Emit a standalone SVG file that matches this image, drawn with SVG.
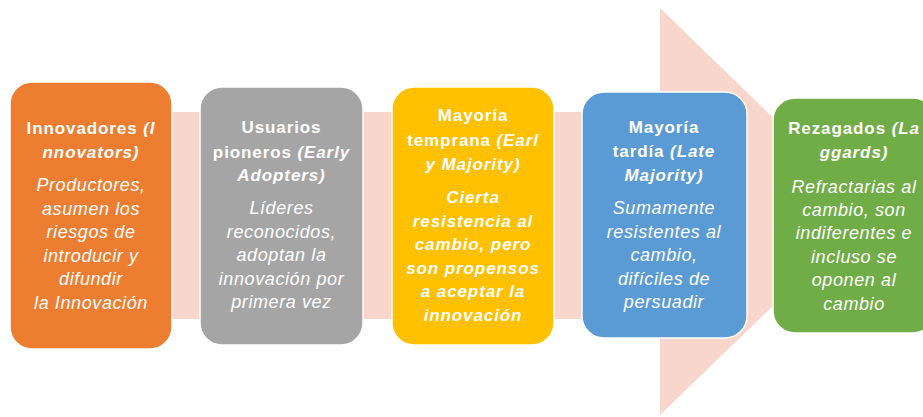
<svg xmlns="http://www.w3.org/2000/svg" width="923" height="417" viewBox="0 0 923 417">
<style>
.box{stroke:#fff;stroke-width:1.5}
text{font-family:"Liberation Sans",Arial,sans-serif;font-size:17px;fill:#fff;text-anchor:middle;letter-spacing:0.9px}
.h{font-weight:bold}
.i{font-style:italic}
.bi{font-weight:bold;font-style:italic}
.b{font-size:18px;letter-spacing:0.6px}
</style>
<rect width="923" height="417" fill="#fff"/>
<g id="arrow">
<path d="M10 112 H660 V8 L870 212 L660 415 V319 H10 Z" fill="#F8D6CB"/>
</g>
<g id="innovadores">
<rect class="box" x="10" y="82" width="162" height="267" rx="22" fill="#ED7D31"/>
<text x="91" y="134" class="h">Innovadores <tspan class="i">(I</tspan></text>
<text x="91" y="158" class="bi">nnovators)</text>
<text class="i b"><tspan x="91" y="191">Productores,</tspan><tspan x="91" y="214.5">asumen los</tspan><tspan x="91" y="238">riesgos de</tspan><tspan x="91" y="261.5">introducir y</tspan><tspan x="91" y="285">difundir</tspan><tspan x="91" y="308.5">la Innovación</tspan></text>
</g>
<g id="pioneros">
<rect class="box" x="200" y="87" width="163" height="258" rx="22" fill="#A5A5A5"/>
<text x="281.5" y="133" class="h">Usuarios</text>
<text x="281.5" y="157.5" class="h">pioneros <tspan class="i">(Early</tspan></text>
<text x="281.5" y="181" class="bi">Adopters)</text>
<text class="i b"><tspan x="281.5" y="214">Líderes</tspan><tspan x="281.5" y="237.5">reconocidos,</tspan><tspan x="281.5" y="261">adoptan la</tspan><tspan x="281.5" y="284.5">innovación por</tspan><tspan x="281.5" y="308">primera vez</tspan></text>
</g>
<g id="temprana">
<rect class="box" x="392" y="87" width="162" height="258" rx="22" fill="#FFC000"/>
<text x="473" y="121" class="h">Mayoría</text>
<text x="473" y="146" class="h">temprana <tspan class="i">(Earl</tspan></text>
<text x="473" y="169.5" class="bi">y Majority)</text>
<text class="bi"><tspan x="473" y="203">Cierta</tspan><tspan x="473" y="226.5">resistencia al</tspan><tspan x="473" y="250">cambio, pero</tspan><tspan x="473" y="273.5">son propensos</tspan><tspan x="473" y="297">a aceptar la</tspan><tspan x="473" y="320.5">innovación</tspan></text>
</g>
<g id="tardia">
<rect class="box" x="582" y="92" width="165" height="246" rx="22" fill="#5B9BD5"/>
<text x="664" y="133" class="h">Mayoría</text>
<text x="664" y="157" class="h">tardía <tspan class="i">(Late</tspan></text>
<text x="664" y="181" class="bi">Majority)</text>
<text class="i b"><tspan x="664" y="214">Sumamente</tspan><tspan x="664" y="237.5">resistentes al</tspan><tspan x="664" y="261">cambio,</tspan><tspan x="664" y="284.5">difíciles de</tspan><tspan x="664" y="308">persuadir</tspan></text>
</g>
<g id="rezagados">
<rect class="box" x="773" y="98" width="162" height="235" rx="22" fill="#70AD47"/>
<text x="854" y="134" class="h">Rezagados <tspan class="i">(La</tspan></text>
<text x="854" y="158" class="bi">ggards)</text>
<text class="i b"><tspan x="854" y="192.5">Refractarias al</tspan><tspan x="854" y="215.5">cambio, son</tspan><tspan x="854" y="239">indiferentes e</tspan><tspan x="854" y="262.5">incluso se</tspan><tspan x="854" y="286">oponen al</tspan><tspan x="854" y="309.5">cambio</tspan></text>
</g>
</svg>
